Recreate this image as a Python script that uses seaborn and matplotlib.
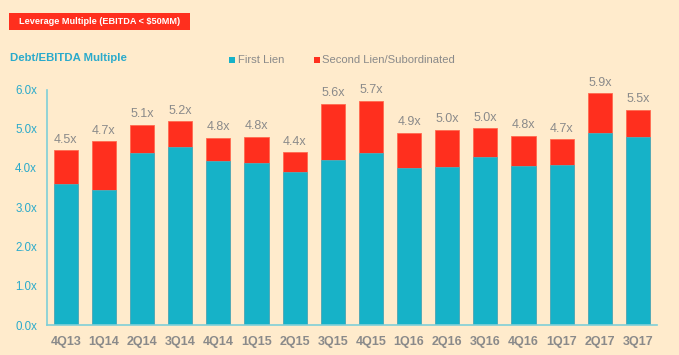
import pandas as pd
import matplotlib.pyplot as plt
import matplotlib.patches as mpatches
import seaborn as sns

# Values
quarters = ['4Q13', '1Q14', '2Q14', '3Q14', '4Q14', '1Q15', '2Q15', '3Q15',
            '4Q15', '1Q16', '2Q16', '3Q16', '4Q16', '1Q17', '2Q17', '3Q17']
first_lien = [3.60, 3.44, 4.37, 4.53, 4.18, 4.14, 3.89, 4.21,
              4.37, 4.01, 4.02, 4.29, 4.06, 4.07, 4.90, 4.78]
total = [4.45, 4.68, 5.10, 5.19, 4.77, 4.79, 4.40, 5.64,
         5.71, 4.90, 4.98, 5.01, 4.81, 4.73, 5.90, 5.48]
total_labels = ['4.5x', '4.7x', '5.1x', '5.2x', '4.8x', '4.8x', '4.4x', '5.6x',
                '5.7x', '4.9x', '5.0x', '5.0x', '4.8x', '4.7x', '5.9x', '5.5x']

df = pd.DataFrame({'quarter': quarters, 'first': first_lien, 'total': total})

teal = '#16b2c8'
red = '#ff2f1e'
bg = '#ffebcc'
grey = '#8a8a8a'

sns.set_style('white')
plt.rcParams['font.family'] = ['Liberation Sans', 'DejaVu Sans']

fig = plt.figure(figsize=(6.79, 3.55), dpi=100, facecolor=bg)
ax = fig.add_axes([46.7 / 679, 30 / 355, (657 - 46.7) / 679, (324.5 - 89) / 355])
ax.set_facecolor(bg)

# stacked bars: total in red, first lien in teal on top of it
sns.barplot(data=df, x='quarter', y='total', color=red, width=0.63,
            saturation=1, ax=ax, edgecolor='#ff6a50', linewidth=0.6)
sns.barplot(data=df, x='quarter', y='first', color=teal, width=0.63,
            saturation=1, ax=ax, edgecolor='#4ab0bf', linewidth=0.6)

for i, (t, lab) in enumerate(zip(total, total_labels)):
    ax.text(i, t + 0.12, lab, ha='center', va='bottom', fontsize=9, color=grey)

ax.set_xlim(-0.5, 15.5)
ax.set_ylim(0, 6.0)
ax.set_yticks([0, 1, 2, 3, 4, 5, 6])
ax.set_yticklabels([f'{v:.1f}x' for v in range(7)], color='#2aaacb', fontsize=8.3)
ax.set_xticks(range(len(quarters)))
ax.set_xticklabels(quarters, color=grey, fontsize=9, fontweight='bold')
ax.set_xlabel('')
ax.set_ylabel('')
ax.tick_params(axis='y', length=3, color='#7fcfd8', pad=4)
ax.tick_params(axis='x', length=0, pad=8)
for s in ['top', 'right']:
    ax.spines[s].set_visible(False)
for s in ['left', 'bottom']:
    ax.spines[s].set_color('#7fcfd8')
    ax.spines[s].set_linewidth(1.2)

# header box and headings
fig.patches.append(mpatches.Rectangle((9 / 679, 1 - 30 / 355), 181 / 679, 17 / 355,
                                      transform=fig.transFigure, facecolor=red,
                                      edgecolor='none'))
fig.text(99.5 / 679, 1 - 21.5 / 355, 'Leverage Multiple (EBITDA < $50MM)', color='white',
         fontsize=6.6, fontweight='bold', va='center', ha='center')
fig.text(10 / 679, 1 - 58 / 355, 'Debt/EBITDA Multiple', color='#2aaacb',
         fontsize=8.2, fontweight='bold', va='center', ha='left')

fig.patches.append(mpatches.Rectangle((229 / 679, 1 - 63 / 355), 6 / 679, 6 / 355,
                                      transform=fig.transFigure, facecolor=teal,
                                      edgecolor='none'))
fig.text(238 / 679, 1 - 60 / 355, 'First Lien', color=grey, fontsize=8.1, va='center', ha='left')
fig.patches.append(mpatches.Rectangle((314 / 679, 1 - 63 / 355), 6 / 679, 6 / 355,
                                      transform=fig.transFigure, facecolor=red,
                                      edgecolor='none'))
fig.text(322 / 679, 1 - 60 / 355, 'Second Lien/Subordinated', color=grey, fontsize=8.1,
         va='center', ha='left')

fig.savefig('out.png', dpi=100, facecolor=bg)
